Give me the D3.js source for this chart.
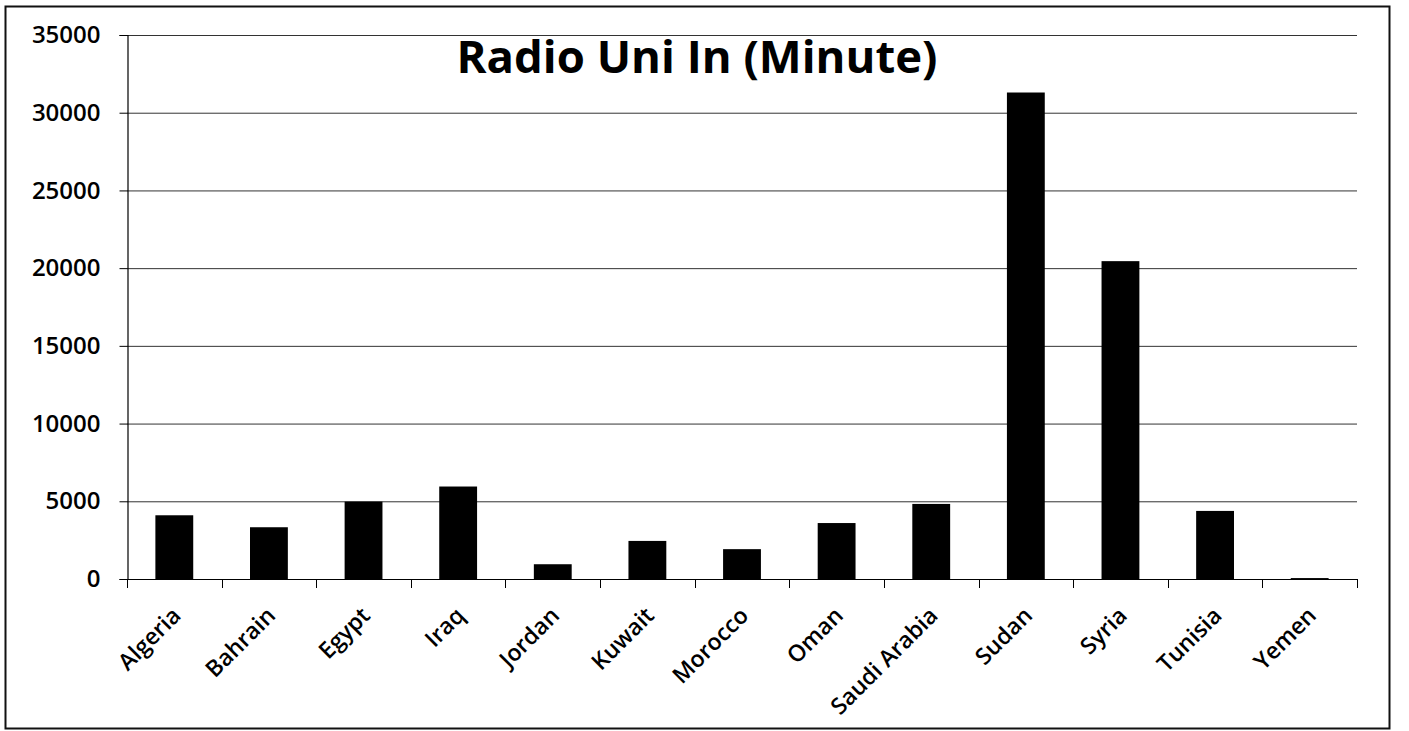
<!DOCTYPE html>
<html><head><meta charset="utf-8">
<script src="https://cdn.jsdelivr.net/npm/d3@7"></script>
<style>body{margin:0;background:#fff}svg{display:block}text{font-family:"Open Sans",sans-serif;fill:#000}</style>
</head><body>
<svg id="c" width="1409" height="731"></svg>
<script>
const categories = ["Algeria","Bahrain","Egypt","Iraq","Jordan","Kuwait","Morocco","Oman","Saudi Arabia","Sudan","Syria","Tunisia","Yemen"];
const values = [4100, 3330, 4980, 5950, 950, 2450, 1920, 3600, 4830, 31300, 20450, 4380, 60];
const yTicks = [0,5000,10000,15000,20000,25000,30000,35000];
const title = "Radio Uni In (Minute)";

const svg = d3.select("#c");
const m = {left:127, right:1357, top:35, bottom:579};
svg.append("rect").attr("x",5.5).attr("y",6.5).attr("width",1384).attr("height",722)
  .attr("fill","#fff").attr("stroke","#111").attr("stroke-width",2);

const x = d3.scaleBand().domain(categories).range([m.left,m.right]).paddingInner(0.6).paddingOuter(0.3);
const y = d3.scaleLinear().domain([0,35000]).range([m.bottom,m.top]);

// gridlines
svg.append("g").selectAll("line").data(yTicks.filter(d=>d>0)).join("line")
  .attr("x1",m.left).attr("x2",m.right).attr("y1",d=>y(d)+0.5).attr("y2",d=>y(d)+0.5)
  .attr("stroke","#333").attr("stroke-width",1);

// bars
svg.append("g").selectAll("rect").data(categories).join("rect")
  .attr("x",d=>x(d)).attr("width",x.bandwidth())
  .attr("y",(d,i)=>y(values[i])).attr("height",(d,i)=>Math.max(1,y(0)-y(values[i])))
  .attr("fill","#000");

// y axis
const ya = svg.append("g").attr("transform",`translate(${m.left+0.5},0)`)
  .call(d3.axisLeft(y).tickValues(yTicks).tickSize(8).tickPadding(19).tickFormat(d3.format("d")));
ya.select(".domain").attr("stroke","#000").attr("stroke-width",1.2);
ya.selectAll(".tick line").attr("stroke","#000");
ya.selectAll("text").style("font-size","24px").style("font-weight","600").style("font-family","'Open Sans',sans-serif").attr("fill","#000");

// x axis
svg.append("line").attr("x1",m.left).attr("x2",m.right).attr("y1",y(0)+0.5).attr("y2",y(0)+0.5).attr("stroke","#000").attr("stroke-width",1.2);
const bounds = d3.range(categories.length+1).map(i=>m.left + i*(m.right-m.left)/categories.length);
svg.append("g").selectAll("line").data(bounds).join("line")
  .attr("x1",d=>Math.round(d)+0.5).attr("x2",d=>Math.round(d)+0.5).attr("y1",y(0)).attr("y2",y(0)+9)
  .attr("stroke","#000");

svg.append("g").selectAll("text").data(categories).join("text")
  .attr("transform",d=>`translate(${x(d)+x.bandwidth()/2+8},${y(0)+38}) rotate(-45)`)
  .attr("text-anchor","end").style("font-size","23px").style("font-weight","600").text(d=>d);

// title
const t = svg.append("text").attr("x",697).attr("y",73).attr("text-anchor","middle")
  .style("font-weight","700").style("font-size","36px").text(title);
const w = t.node().getComputedTextLength();
t.style("font-size",(36*481/w)+"px");
</script>
</body></html>
